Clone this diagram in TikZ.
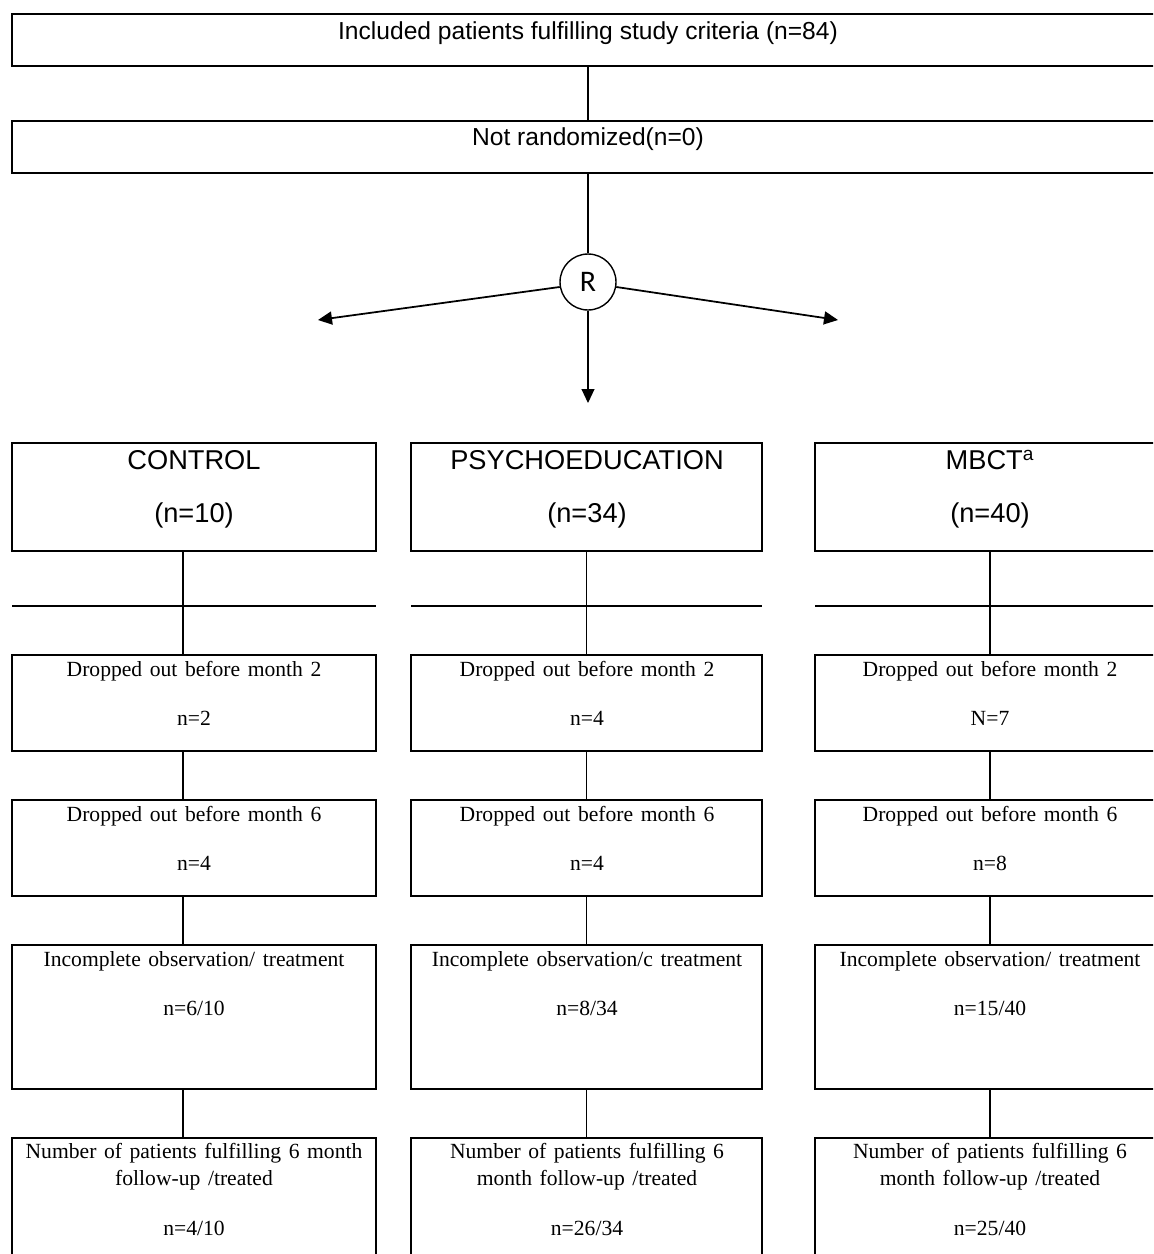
\documentclass[tikz,border=0pt]{standalone}
\usepackage{fontspec}
\setmainfont{Liberation Serif}
\newfontfamily\arialfont{Liberation Sans}
\newfontfamily\calfont{Carlito}
\usetikzlibrary{arrows.meta,fit}

\begin{document}
\begin{tikzpicture}[x=0.02cm, y=-0.02cm,
    box/.style={draw, line width=0.6pt, inner sep=0pt},
    topbox/.style={box, line width=0.9pt},
    toptxt/.style={font=\arialfont\fontsize{14}{17}\selectfont, inner sep=0pt, yshift=-0.04cm},
    armtxt/.style={font=\arialfont\fontsize{15.5}{18}\selectfont, inner sep=0pt},
    steptxt/.style={font={\fontsize{12.3}{15}\selectfont\spaceskip=0.35em plus 0.1em\relax}, inner sep=0pt, yshift=-0.03cm},
    link/.style={line width=0.6pt},
    arm/.style={line width=1pt, -{Triangle[length=2.8mm, width=2.6mm]}}]
    \useasboundingbox (0,0) rectangle (1153,1254);
    \clip (0,0) rectangle (1153,1254);

    % Enrolment
    \node[topbox, fit={(12,14) (1164,66)}] (incl) {};
    \node[toptxt] (incltxt) at (588,31) {Included patients fulfilling study criteria (n=84)};
    \node[topbox, fit={(12,121) (1164,173)}] (norand) {};
    \node[toptxt] (norandtxt) at (588,137) {Not randomized(n=0)};
    \draw[link] (incl.south) -- (norand.north);

    % Randomisation
    \node[draw, circle, line width=0.8pt, minimum size=1.12cm, inner sep=0pt,
          font=\calfont\fontsize{17}{20}\selectfont] (R) at (588,282) {R};
    \draw[link] (norand.south) -- (R.north);
    \coordinate (tipL) at (318,320);
    \coordinate (tipR) at (838,320);
    \coordinate (tipD) at (588,403);
    \draw[arm] (R.190) -- (tipL);
    \draw[arm] (R.350) -- (tipR);
    \draw[arm, line width=0.6pt] (R.south) -- (tipD);

    % Control
    \coordinate (lineC) at (183,0);
    \node[box, fit={(12,443) (376,551)}] (c1) {};
    \node[armtxt] (c1a) at (194,460) {CONTROL};
    \node[armtxt] (c1b) at (194,515) {(n=10)};
    \draw[link] (12,606) -- (376,606);
    \node[box, fit={(12,655) (376,751)}] (c2) {};
    \node[steptxt] (c2a) at (194,670) {Dropped out before month 2};
    \node[steptxt] (c2b) at (194,717) {n=2};
    \node[box, fit={(12,800) (376,896)}] (c3) {};
    \node[steptxt] (c3a) at (194,815) {Dropped out before month 6};
    \node[steptxt] (c3b) at (194,862) {n=4};
    \node[box, fit={(12,945) (376,1089)}] (c4) {};
    \node[steptxt] (c4a) at (194,960) {Incomplete observation/ treatment};
    \node[steptxt] (c4b) at (194,1007) {n=6/10};
    \node[box, fit={(12,1138) (376,1290)}] (c5) {};
    \node[steptxt] (c5a) at (194,1152) {Number of patients fulfilling 6 month};
    \node[steptxt] (c5b) at (194,1179) {follow-up /treated};
    \node[steptxt] (c5c) at (194,1227) {n=4/10};
    \draw[link] (c1.south -| lineC) -- (c2.north -| lineC);
    \draw[link] (c2.south -| lineC) -- (c3.north -| lineC);
    \draw[link] (c3.south -| lineC) -- (c4.north -| lineC);
    \draw[link] (c4.south -| lineC) -- (c5.north -| lineC);

    % Psychoeducation
    \node[box, fit={(411,443) (762,551)}] (p1) {};
    \node[armtxt] (p1a) at (587,460) {PSYCHOEDUCATION};
    \node[armtxt] (p1b) at (587,515) {(n=34)};
    \draw[link] (411,606) -- (762,606);
    \node[box, fit={(411,655) (762,751)}] (p2) {};
    \node[steptxt] (p2a) at (587,670) {Dropped out before month 2};
    \node[steptxt] (p2b) at (587,717) {n=4};
    \node[box, fit={(411,800) (762,896)}] (p3) {};
    \node[steptxt] (p3a) at (587,815) {Dropped out before month 6};
    \node[steptxt] (p3b) at (587,862) {n=4};
    \node[box, fit={(411,945) (762,1089)}] (p4) {};
    \node[steptxt] (p4a) at (587,960) {Incomplete observation/c treatment};
    \node[steptxt] (p4b) at (587,1007) {n=8/34};
    \node[box, fit={(411,1138) (762,1290)}] (p5) {};
    \node[steptxt] (p5a) at (587,1152) {Number of patients fulfilling 6};
    \node[steptxt] (p5b) at (587,1179) {month follow-up /treated};
    \node[steptxt] (p5c) at (587,1227) {n=26/34};
    \draw[link] (p1) -- (p2);
    \draw[link] (p2) -- (p3);
    \draw[link] (p3) -- (p4);
    \draw[link] (p4) -- (p5);

    % MBCT
    \node[box, fit={(815,443) (1165,551)}] (m1) {};
    \node[armtxt] (m1a) at (990,460) {MBCT\textsuperscript{a}};
    \node[armtxt] (m1b) at (990,515) {(n=40)};
    \draw[link] (815,606) -- (1165,606);
    \node[box, fit={(815,655) (1165,751)}] (m2) {};
    \node[steptxt] (m2a) at (990,670) {Dropped out before month 2};
    \node[steptxt] (m2b) at (990,717) {N=7};
    \node[box, fit={(815,800) (1165,896)}] (m3) {};
    \node[steptxt] (m3a) at (990,815) {Dropped out before month 6};
    \node[steptxt] (m3b) at (990,862) {n=8};
    \node[box, fit={(815,945) (1165,1089)}] (m4) {};
    \node[steptxt] (m4a) at (990,960) {Incomplete observation/ treatment};
    \node[steptxt] (m4b) at (990,1007) {n=15/40};
    \node[box, fit={(815,1138) (1165,1290)}] (m5) {};
    \node[steptxt] (m5a) at (990,1152) {Number of patients fulfilling 6};
    \node[steptxt] (m5b) at (990,1179) {month follow-up /treated};
    \node[steptxt] (m5c) at (990,1227) {n=25/40};
    \draw[link] (m1) -- (m2);
    \draw[link] (m2) -- (m3);
    \draw[link] (m3) -- (m4);
    \draw[link] (m4) -- (m5);
\end{tikzpicture}
\end{document}
